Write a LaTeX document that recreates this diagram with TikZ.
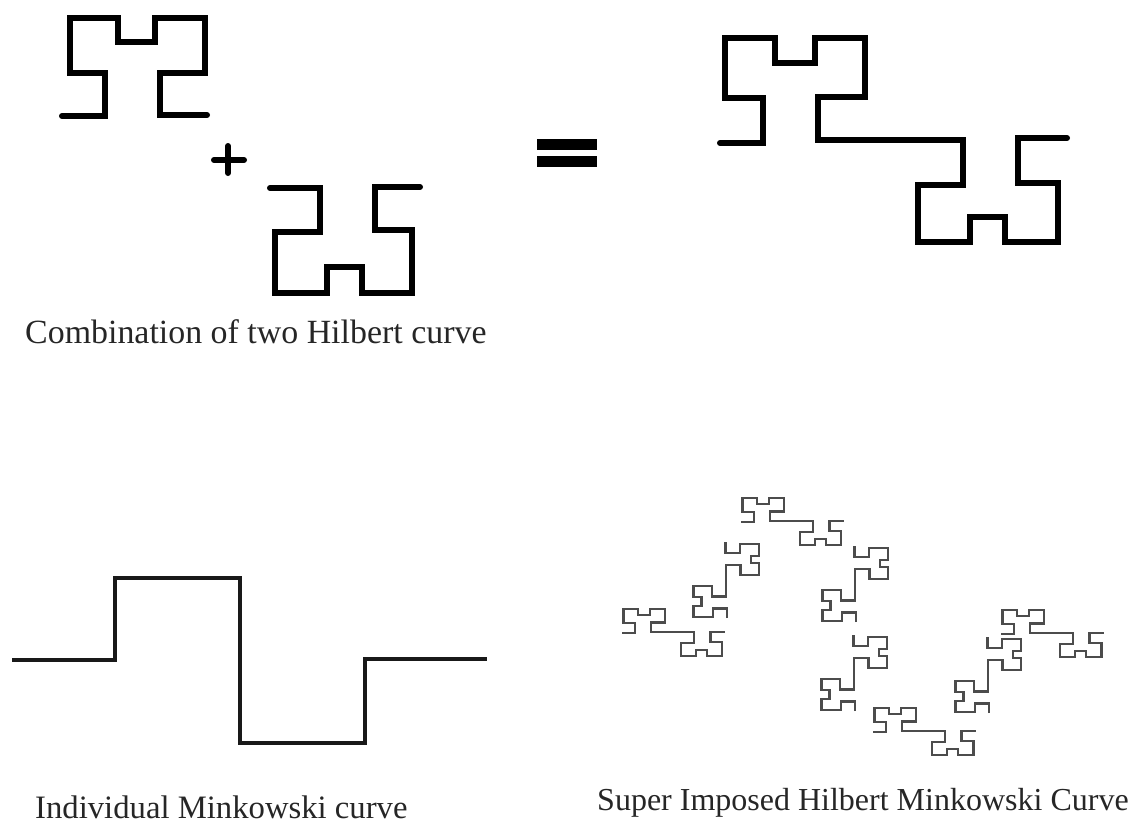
\documentclass[tikz,border=0pt]{standalone}
\usepackage{fontspec}
\setmainfont{Liberation Serif}
\tikzset{
  bighil/.style={line width=6pt, line cap=round, line join=miter, black},
  minkline/.style={line width=3.2pt, line join=miter, black!90},
  smallhil/.style={line width=2.2pt, line join=miter, black!70},
  caption/.style={anchor=base west, inner sep=0pt, text=black!85},
  combo/.pic={
    \draw[smallhil] (0,0) -- (43,0) -- (43,-45) -- (5,-45) -- (5,-105) -- (55,-105) -- (55,-80) -- (95,-80) -- (95,-105) -- (145,-105) -- (145,-46) -- (98,-46) -- (98,-3) -- (243,-3) -- (243,42) -- (198,42) -- (198,99) -- (250,99) -- (250,74) -- (285,74) -- (285,99) -- (338,99) -- (338,40) -- (298,40) -- (298,-5) -- (347,-5);
  },
  hpiece/.style={x={(0.297pt,0pt)}, y={(0pt,-0.23pt)}},
  vpiece/.style={x={(0pt,0.219pt)}, y={(0.32pt,0pt)}}
}
\begin{document}
\begin{tikzpicture}[x=1pt,y=-1pt]
\useasboundingbox (0,0) rectangle (1134,823);
% first Hilbert piece
\draw[bighil] (62,116) -- (105,116) -- (105,73) -- (70,73) -- (70,18) -- (118,18) -- (118,42) -- (155,42) -- (155,18) -- (205,18) -- (205,73) -- (160,73) -- (160,115) -- (207,115);
% plus sign
\draw[line width=6pt, line cap=round] (214,160) -- (244,160);
\draw[line width=6pt, line cap=round] (228,146) -- (228,173);
% second Hilbert piece
\draw[bighil] (270,188) -- (320,188) -- (320,232) -- (275,232) -- (275,293) -- (327,293) -- (327,267) -- (362,267) -- (362,293) -- (412,293) -- (412,230) -- (375,230) -- (375,187) -- (420,187);
% equals sign
\fill[black] (537,139) rectangle (597,150);
\fill[black] (537,156) rectangle (597,167);
% combined curve
\draw[bighil] (720,143) -- (763,143) -- (763,98) -- (725,98) -- (725,38) -- (775,38) -- (775,63) -- (815,63) -- (815,38) -- (865,38) -- (865,97) -- (818,97) -- (818,140) -- (963,140) -- (963,185) -- (918,185) -- (918,242) -- (970,242) -- (970,217) -- (1005,217) -- (1005,242) -- (1058,242) -- (1058,183) -- (1018,183) -- (1018,138) -- (1067,138);
\node[caption, font=\fontsize{33.9}{36}\selectfont] (capA) at (25,343) {Combination of two Hilbert curve};
% Minkowski curve
\draw[minkline] (12,660) -- (115,660) -- (115,578) -- (240,578) -- (240,743) -- (365,743) -- (365,659) -- (487,659);
\node[caption, font=\fontsize{32.7}{36}\selectfont] (capB) at (35,818) {Individual Minkowski curve};
% superimposed Hilbert Minkowski curve
\begin{scope}[shift={(622,633)}, hpiece] \pic {combo}; \end{scope}
\begin{scope}[shift={(727,618)}, vpiece] \pic {combo}; \end{scope}
\begin{scope}[shift={(741,522)}, hpiece] \pic {combo}; \end{scope}
\begin{scope}[shift={(856,622)}, vpiece] \pic {combo}; \end{scope}
\begin{scope}[shift={(855,711)}, vpiece] \pic {combo}; \end{scope}
\begin{scope}[shift={(873,732)}, hpiece] \pic {combo}; \end{scope}
\begin{scope}[shift={(989,713)}, vpiece] \pic {combo}; \end{scope}
\begin{scope}[shift={(1001,634)}, hpiece] \pic {combo}; \end{scope}
\node[caption, font=\fontsize{32}{36}\selectfont] (capC) at (597,810) {Super Imposed Hilbert Minkowski Curve};
\end{tikzpicture}
\end{document}
